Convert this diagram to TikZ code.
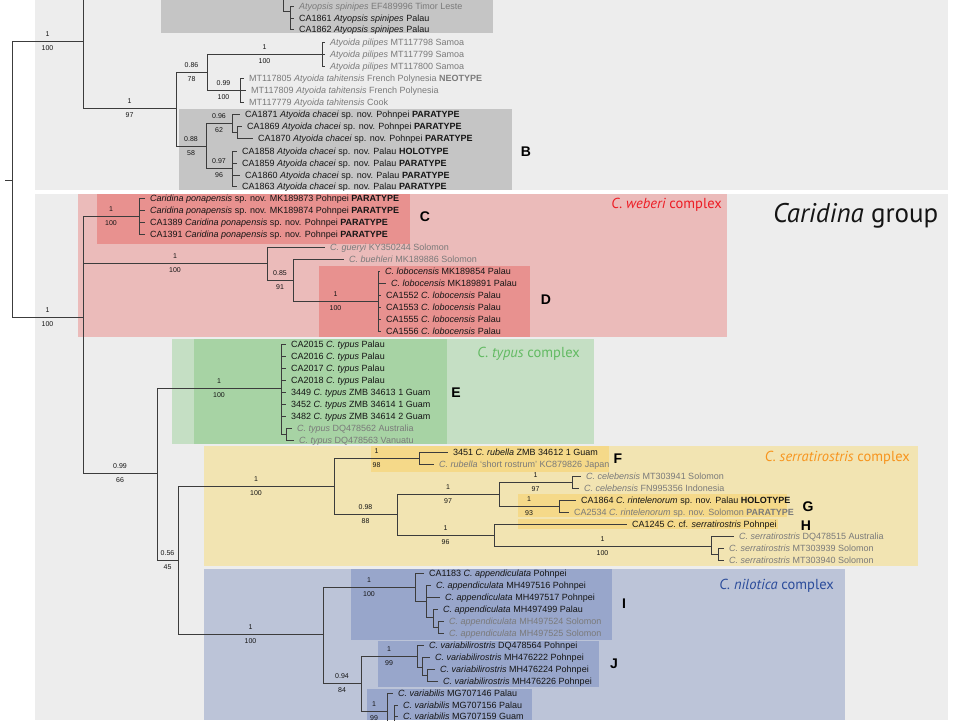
\documentclass[tikz,border=0pt]{standalone}
\usepackage{fontspec}
\setmainfont{Liberation Sans}
\newfontfamily\labfont{PT Sans}
\definecolor{bgc}{HTML}{EDEDED}
\definecolor{gdk}{HTML}{C5C5C5}
\definecolor{rlt}{HTML}{EBBBBA}
\definecolor{rdk}{HTML}{E8918F}
\definecolor{glt}{HTML}{C5DFC4}
\definecolor{gdkk}{HTML}{A7D3A4}
\definecolor{ylt}{HTML}{F2E4B2}
\definecolor{ydk}{HTML}{F5D989}
\definecolor{blt}{HTML}{BCC4D8}
\definecolor{bdk}{HTML}{98A6CB}
\definecolor{linec}{HTML}{3C3C3C}
\definecolor{txt}{HTML}{151515}
\definecolor{gtx}{HTML}{7A7A7A}
\definecolor{cred}{HTML}{ED1C24}
\definecolor{cgreen}{HTML}{62BA62}
\definecolor{corange}{HTML}{F7941D}
\definecolor{cblue}{HTML}{2B4C9B}
\newcommand\supl[4]{\path (#1 |- #2) -- (#2) node[sup,midway,yshift=7pt] (#2-t) {#3} node[sup,midway,yshift=-7pt] (#2-b) {#4};}
\newcommand\tedge[4]{\draw[br] (#1) |- (#2); \supl{#1}{#2}{#3}{#4}}
\newcommand\lf[6]{\node[#5] (#2) at (#3,#4) {#6}; \draw[br] (#1) |- (#2.west);}
\begin{document}
\begin{tikzpicture}[x=1pt,y=-1pt,
  br/.style={draw=linec, line width=0.8pt},
  leaf/.style={anchor=west, inner xsep=5.5pt, inner ysep=0pt, text height=6.5pt, text depth=0pt, font=\fontsize{9}{10}\selectfont, text=txt},
  gleaf/.style={leaf, text=gtx},
  sup/.style={font=\fontsize{7}{8}\selectfont, inner sep=0pt, text=txt},
  cl/.style={font=\fontsize{14}{15}\selectfont\bfseries, inner sep=0pt, text=black},
  cx/.style={anchor=base east, inner sep=0pt, font=\labfont\fontsize{14.5}{16}\selectfont}]
\useasboundingbox (0,0) rectangle (960,720);
\clip (0,0) rectangle (960,720);
% backgrounds
\fill[white] (0,0) rectangle (960,720);
\fill[bgc] (35,0) rectangle (948,190);
\fill[bgc] (35,194) rectangle (948,720);
\fill[gdk] (161,0) rectangle (493,33);
\fill[gdk] (179,109) rectangle (512,190);
\fill[rlt] (78,194) rectangle (727,337);
\fill[rdk] (97,194) rectangle (410,244);
\fill[rdk] (319,266) rectangle (530,337);
\fill[glt] (172,339) rectangle (594,444);
\fill[gdkk] (194,339) rectangle (447,444);
\fill[ylt] (204,446) rectangle (918,566);
\fill[ydk] (371,446) rectangle (609,472);
\fill[ydk] (518,494) rectangle (787,517);
\fill[ydk] (518,519) rectangle (778,529);
\fill[blt] (204,569) rectangle (845,720);
\fill[bdk] (351,569) rectangle (612,640);
\fill[bdk] (378,641) rectangle (599,687);
\fill[bdk] (367,689) rectangle (532,720);
% labels
\node[cx, text=cred] (lw) at (722,208) {\itshape C. weberi\upshape\ complex};
\node[cx, text=cgreen] (lt) at (580,357) {\itshape C. typus\upshape\ complex};
\node[cx, text=corange] (ls) at (910,461) {\itshape C. serratirostris\upshape\ complex};
\node[cx, text=cblue] (ln) at (834,589) {\itshape C. nilotica\upshape\ complex};
\node[anchor=base west, inner sep=0pt, text=txt, font=\labfont\fontsize{27}{29}\selectfont] (cg) at (773,222) {\itshape Caridina\upshape\ group};
\node[cl] (LB) at (526,152) {B};
\node[cl] (LC) at (425,217) {C};
\node[cl] (LD) at (546,300) {D};
\node[cl] (LE) at (456,393) {E};
\node[cl] (LF) at (618,459) {F};
\node[cl] (LG) at (808,507) {G};
\node[cl] (LH) at (806,526) {H};
\node[cl] (LI) at (624,604) {I};
\node[cl] (LJ) at (614,664) {J};
% internal nodes
\coordinate (R0) at (5,180);
\coordinate (R) at (12,180);
\coordinate (A) at (83,41);
\coordinate (Asp) at (283,-20);
\coordinate (Asp2) at (290,11);
\coordinate (B1) at (176,108);
\coordinate (B2) at (207,72);
\coordinate (pil) at (322,54);
\coordinate (tah) at (240,90);
\coordinate (chac) at (206,146);
\coordinate (ch1) at (232,123);
\coordinate (ch1b) at (237,132);
\coordinate (ch2) at (232,168);
\coordinate (C) at (83,317);
\coordinate (pon) at (139,216);
\coordinate (gb) at (267,263);
\coordinate (gb2) at (293,280);
\coordinate (lob) at (378,301);
\coordinate (D99) at (157,473);
\coordinate (ty) at (281,388);
\coordinate (tyb) at (286,434);
\coordinate (D56) at (178,560);
\coordinate (ser) at (334,486);
\coordinate (rub) at (419,458);
\coordinate (ser2) at (397,514);
\coordinate (celr) at (499,494);
\coordinate (cel) at (572,482);
\coordinate (rin) at (559,506);
\coordinate (hr) at (494,535);
\coordinate (sr) at (711,546);
\coordinate (sr2) at (718,554);
\coordinate (nil) at (323,634);
\coordinate (app) at (415,587);
\coordinate (app2) at (426,601);
\coordinate (app3) at (433,617);
\coordinate (app4) at (438,627);
\coordinate (n94) at (361,683);
\coordinate (vr) at (417,656);
\coordinate (vr2) at (422,667);
\coordinate (vr3) at (427,675);
\coordinate (vb) at (387,711);
\coordinate (vb2) at (394,725);
% branches
\draw[br] (R0) -- (R);
\tedge{R}{A}{1}{100}
\tedge{R}{C}{1}{100}
\draw[br] (A) |- (Asp);
\draw[br] (Asp) |- (Asp2);
\tedge{A}{B1}{1}{97}
\tedge{B1}{B2}{0.86}{78}
\tedge{B2}{pil}{1}{100}
\tedge{B2}{tah}{0.99}{100}
\tedge{B1}{chac}{0.88}{58}
\tedge{chac}{ch1}{0.96}{62}
\draw[br] (ch1) |- (ch1b);
\tedge{chac}{ch2}{0.97}{96}
\tedge{C}{pon}{1}{100}
\tedge{C}{gb}{1}{100}
\tedge{gb}{gb2}{0.85}{91}
\tedge{gb2}{lob}{1}{100}
\tedge{C}{D99}{0.99}{66}
\tedge{D99}{ty}{1}{100}
\draw[br] (ty) |- (tyb);
\tedge{D99}{D56}{0.56}{45}
\tedge{D56}{ser}{1}{100}
\tedge{ser}{rub}{1}{98}
\tedge{ser}{ser2}{0.98}{88}
\tedge{ser2}{celr}{1}{97}
\tedge{celr}{cel}{1}{97}
\tedge{celr}{rin}{1}{93}
\tedge{ser2}{hr}{1}{96}
\tedge{hr}{sr}{1}{100}
\draw[br] (sr) |- (sr2);
\tedge{D56}{nil}{1}{100}
\tedge{nil}{app}{1}{100}
\draw[br] (app) |- (app2);
\draw[br] (app2) |- (app3);
\draw[br] (app3) |- (app4);
\tedge{nil}{n94}{0.94}{84}
\tedge{n94}{vr}{1}{99}
\draw[br] (vr) |- (vr2);
\draw[br] (vr2) |- (vr3);
\tedge{n94}{vb}{1}{99}
\draw[br] (vb) |- (vb2);
% leaves group 1
\lf{Asp2}{a1}{293.5}{6}{gleaf}{\textit{Atyopsis spinipes} EF489996 Timor Leste}
\lf{Asp2}{a2}{293.5}{18}{leaf}{CA1861 \textit{Atyopsis spinipes} Palau}
\lf{Asp2}{a3}{293.5}{29}{leaf}{CA1862 \textit{Atyopsis spinipes} Palau}
\lf{pil}{p1}{324.5}{42}{gleaf}{\textit{Atyoida pilipes} MT117798 Samoa}
\lf{pil}{p2}{324.5}{54}{gleaf}{\textit{Atyoida pilipes} MT117799 Samoa}
\lf{pil}{p3}{324.5}{66}{gleaf}{\textit{Atyoida pilipes} MT117800 Samoa}
\lf{tah}{t1}{243.5}{78}{gleaf}{MT117805 \textit{Atyoida tahitensis} French Polynesia \textbf{NEOTYPE}}
\lf{tah}{t2}{245.5}{90}{gleaf}{MT117809 \textit{Atyoida tahitensis} French Polynesia}
\lf{tah}{t3}{243.5}{102}{gleaf}{MT117779 \textit{Atyoida tahitensis} Cook}
\lf{ch1}{c1}{239.5}{114}{leaf}{CA1871 \textit{Atyoida chacei} sp. nov. Pohnpei \textbf{PARATYPE}}
\lf{ch1b}{c2}{241.5}{126}{leaf}{CA1869 \textit{Atyoida chacei} sp. nov. Pohnpei \textbf{PARATYPE}}
\lf{ch1b}{c3}{252.5}{138}{leaf}{CA1870 \textit{Atyoida chacei} sp. nov. Pohnpei \textbf{PARATYPE}}
\lf{ch2}{c4}{236.5}{151}{leaf}{CA1858 \textit{Atyoida chacei} sp. nov. Palau \textbf{HOLOTYPE}}
\lf{ch2}{c5}{236.5}{163}{leaf}{CA1859 \textit{Atyoida chacei} sp. nov. Palau \textbf{PARATYPE}}
\lf{ch2}{c6}{239.5}{175}{leaf}{CA1860 \textit{Atyoida chacei} sp. nov. Palau \textbf{PARATYPE}}
\lf{ch2}{c7}{236.5}{186}{leaf}{CA1863 \textit{Atyoida chacei} sp. nov. Palau \textbf{PARATYPE}}
% leaves group 2
\lf{pon}{o1}{144.5}{198}{leaf}{\textit{Caridina ponapensis} sp. nov. MK189873 Pohnpei \textbf{PARATYPE}}
\lf{pon}{o2}{144.5}{210}{leaf}{\textit{Caridina ponapensis} sp. nov. MK189874 Pohnpei \textbf{PARATYPE}}
\lf{pon}{o3}{144.5}{222}{leaf}{CA1389 \textit{Caridina ponapensis} sp. nov. Pohnpei \textbf{PARATYPE}}
\lf{pon}{o4}{144.5}{234}{leaf}{CA1391 \textit{Caridina ponapensis} sp. nov. Pohnpei \textbf{PARATYPE}}
\lf{gb}{gu}{324.5}{247}{gleaf}{\textit{C. gueryi} KY350244 Solomon}
\lf{gb2}{bu}{343.5}{259}{gleaf}{\textit{C. buehleri} MK189886 Solomon}
\lf{lob}{l1}{379.5}{271}{leaf}{\textit{C. lobocensis} MK189854 Palau}
\lf{lob}{l2}{385.5}{283}{leaf}{\textit{C. lobocensis} MK189891 Palau}
\lf{lob}{l3}{380.5}{295}{leaf}{CA1552 \textit{C. lobocensis} Palau}
\lf{lob}{l4}{380.5}{307}{leaf}{CA1553 \textit{C. lobocensis} Palau}
\lf{lob}{l5}{380.5}{319}{leaf}{CA1555 \textit{C. lobocensis} Palau}
\lf{lob}{l6}{380.5}{331}{leaf}{CA1556 \textit{C. lobocensis} Palau}
\lf{ty}{y1}{285.5}{344}{leaf}{CA2015 \textit{C. typus} Palau}
\lf{ty}{y2}{285.5}{356}{leaf}{CA2016 \textit{C. typus} Palau}
\lf{ty}{y3}{285.5}{368}{leaf}{CA2017 \textit{C. typus} Palau}
\lf{ty}{y4}{285.5}{380}{leaf}{CA2018 \textit{C. typus} Palau}
\lf{ty}{y5}{285.5}{392}{leaf}{3449 \textit{C. typus} ZMB 34613 1 Guam}
\lf{ty}{y6}{285.5}{404}{leaf}{3452 \textit{C. typus} ZMB 34614 1 Guam}
\lf{ty}{y7}{285.5}{416}{leaf}{3482 \textit{C. typus} ZMB 34614 2 Guam}
\lf{tyb}{y8}{291.5}{428}{gleaf}{\textit{C. typus} DQ478562 Australia}
\lf{tyb}{y9}{293.5}{440}{gleaf}{\textit{C. typus} DQ478563 Vanuatu}
\lf{rub}{r1}{447.5}{452}{leaf}{3451 \textit{C. rubella} ZMB 34612 1 Guam}
\lf{rub}{r2}{433.5}{464}{gleaf}{\textit{C. rubella} `short rostrum' KC879826 Japan}
\lf{cel}{e1}{580.5}{476}{gleaf}{\textit{C. celebensis} MT303941 Solomon}
\lf{cel}{e2}{578.5}{488}{gleaf}{\textit{C. celebensis} FN995356 Indonesia}
\lf{rin}{n1}{575.5}{500}{leaf}{CA1864 \textit{C. rintelenorum} sp. nov. Palau \textbf{HOLOTYPE}}
\lf{rin}{n2}{568.5}{512}{gleaf}{CA2534 \textit{C. rintelenorum} sp. nov. Solomon \textbf{PARATYPE}}
\lf{hr}{h1}{626.5}{524}{leaf}{CA1245 \textit{C.} cf. \textit{serratirostris} Pohnpei}
\lf{sr}{s1}{733.5}{536}{gleaf}{\textit{C. serratirostris} DQ478515 Australia}
\lf{sr2}{s2}{723.5}{548}{gleaf}{\textit{C. serratirostris} MT303939 Solomon}
\lf{sr2}{s3}{723.5}{560}{gleaf}{\textit{C. serratirostris} MT303940 Solomon}
\lf{app}{i1}{423.5}{573}{leaf}{CA1183 \textit{C. appendiculata} Pohnpei}
\lf{app2}{i2}{430.5}{585}{leaf}{\textit{C. appendiculata} MH497516 Pohnpei}
\lf{app2}{i3}{439.5}{597}{leaf}{\textit{C. appendiculata} MH497517 Pohnpei}
\lf{app3}{i4}{437.5}{609}{leaf}{\textit{C. appendiculata} MH497499 Palau}
\lf{app4}{i5}{443.5}{621}{gleaf}{\textit{C. appendiculata} MH497524 Solomon}
\lf{app4}{i6}{443.5}{633}{gleaf}{\textit{C. appendiculata} MH497525 Solomon}
\lf{vr}{j1}{423.5}{645}{leaf}{\textit{C. variabilirostris} DQ478564 Pohnpei}
\lf{vr2}{j2}{429.5}{657}{leaf}{\textit{C. variabilirostris} MH476222 Pohnpei}
\lf{vr3}{j3}{434.5}{669}{leaf}{\textit{C. variabilirostris} MH476224 Pohnpei}
\lf{vr3}{j4}{437.5}{681}{leaf}{\textit{C. variabilirostris} MH476226 Pohnpei}
\lf{vb}{k1}{392.5}{693}{leaf}{\textit{C. variabilis} MG707146 Palau}
\lf{vb2}{k2}{397.5}{705}{leaf}{\textit{C. variabilis} MG707156 Palau}
\lf{vb2}{k3}{397.5}{716}{leaf}{\textit{C. variabilis} MG707159 Guam}
\end{tikzpicture}
\end{document}
